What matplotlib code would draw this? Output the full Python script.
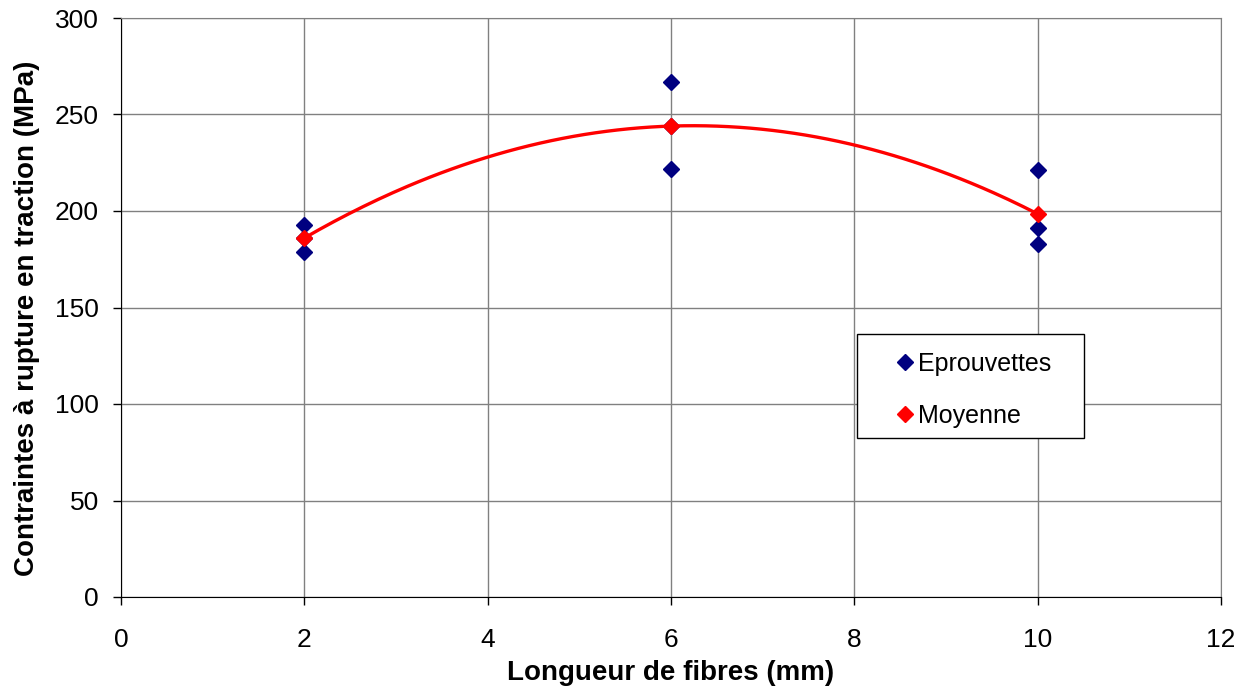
import numpy as np
import matplotlib.pyplot as plt
from matplotlib.patches import Rectangle

plt.rcParams['font.family'] = ['Liberation Sans', 'DejaVu Sans']

# data
x_eprouvettes = [2, 2, 2, 6, 6, 6, 10, 10, 10]
y_eprouvettes = [193, 179, 186, 267, 222, 244, 221, 191, 183]
x_moyenne = [2, 6, 10]
y_moyenne = [186, 244, 198.5]

fig = plt.figure(figsize=(12.47, 6.88), dpi=100)
ax = fig.add_axes([121 / 1247, 1 - 597 / 688, 1100 / 1247, 579 / 688])

ax.plot(x_eprouvettes, y_eprouvettes, linestyle='none', marker='D', markersize=8.5,
        color='#000080', label='Eprouvettes', zorder=3)

# polynomial trendline (order 2) on the means
coef = np.polyfit(x_moyenne, y_moyenne, 2)
xt = np.linspace(min(x_moyenne), max(x_moyenne), 200)
ax.plot(xt, np.polyval(coef, xt), color='#ff0000', linewidth=2.4, zorder=4)
ax.plot(x_moyenne, y_moyenne, linestyle='none', marker='D', markersize=8.5,
        color='#ff0000', label='Moyenne', zorder=5)

ax.set_xlim(0, 12)
ax.set_ylim(0, 300)
ax.set_xticks(range(0, 13, 2))
ax.set_yticks(range(0, 301, 50))
ax.grid(True, color='#808080', linewidth=1)
ax.set_axisbelow(True)
for s in ['top', 'right']:
    ax.spines[s].set_color('#808080')
for s in ['left', 'bottom']:
    ax.spines[s].set_color('#000000')
ax.tick_params(labelsize=19, length=6, width=1, direction='out')
ax.tick_params(axis='y', pad=10)
ax.tick_params(axis='x', pad=16)

ax.set_xlabel('Longueur de fibres (mm)', fontsize=20, fontweight='bold', labelpad=6)
ax.set_ylabel('Contraintes à rupture en traction (MPa)', fontsize=20, fontweight='bold')
ax.yaxis.set_label_coords(-0.074, 0.482)

# legend box
ax.add_patch(Rectangle((857 / 1247, 1 - 438 / 688), 227 / 1247, 104 / 688,
                       transform=fig.transFigure, facecolor='white',
                       edgecolor='black', linewidth=1, zorder=6, clip_on=False))
leg = ax.legend(loc='upper left', bbox_to_anchor=(892 / 1247, 1 - 352 / 688),
                bbox_transform=fig.transFigure, fontsize=18, frameon=False,
                handletextpad=0.05, labelspacing=1.1, borderpad=0,
                handlelength=1.0, borderaxespad=0)
leg.set_zorder(7)

fig.savefig('out.png', dpi=100)
